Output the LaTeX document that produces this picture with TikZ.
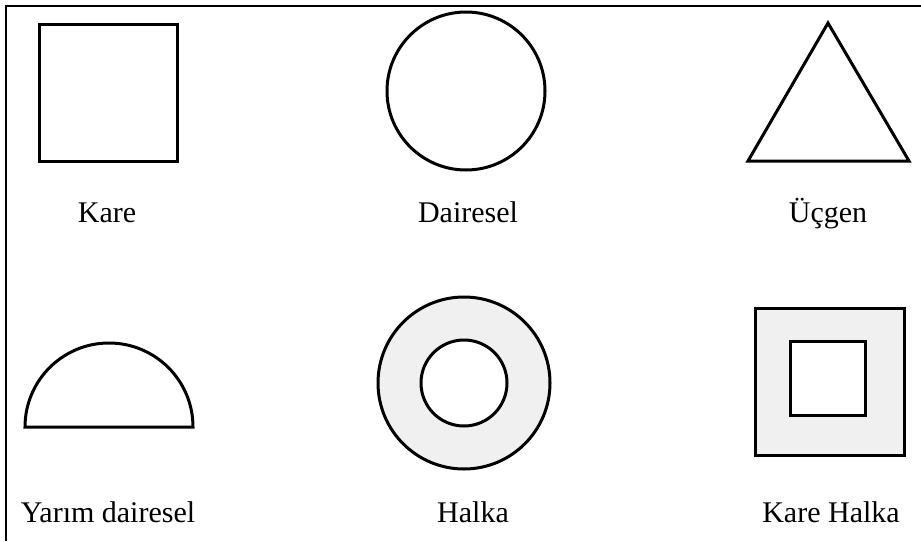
\documentclass[tikz,border=0pt]{standalone}
\usepackage{fontspec}
\setmainfont{Liberation Serif}
\definecolor{halkagri}{HTML}{F0F0F0}
\begin{document}
\begin{tikzpicture}[x=1pt, y=-1pt,
    sekil/.style={draw, line width=3pt},
    etiket/.style={anchor=base, inner sep=0pt, font=\fontsize{30}{36}\selectfont}]
  \useasboundingbox (0,0) rectangle (921,541);

  % çerçeve (sol ve üst)
  \coordinate (cA) at (6,541);
  \coordinate (cB) at (921,6);
  \draw[line width=2pt] (cA) |- (cB);

  % üst sıra
  \draw[sekil] (39,24) rectangle (177,161);
  \draw[sekil] (466,91) circle (79);
  \draw[sekil, line join=miter] (828,23) -- (909,161) -- (748,161) -- cycle;

  \node[etiket] (kare)     at (107,222) {Kare};
  \node[etiket] (dairesel) at (468,222) {Dairesel};
  \node[etiket] (ucgen)    at (828,222) {Üçgen};

  % alt sıra
  \draw[sekil] (25,427) arc (180:360:84) -- cycle;
  \draw[sekil, fill=halkagri, even odd rule] (464,383) circle (86) (464,383) circle (43);
  \draw[sekil, fill=halkagri, even odd rule] (755,308) rectangle (904,455) (790,341) rectangle (865,415);

  \node[etiket] (yarim)     at (108,522) {Yarım dairesel};
  \node[etiket] (halka)     at (473,522) {Halka};
  \node[etiket] (karehalka) at (831,522) {Kare Halka};

\end{tikzpicture}
\end{document}
